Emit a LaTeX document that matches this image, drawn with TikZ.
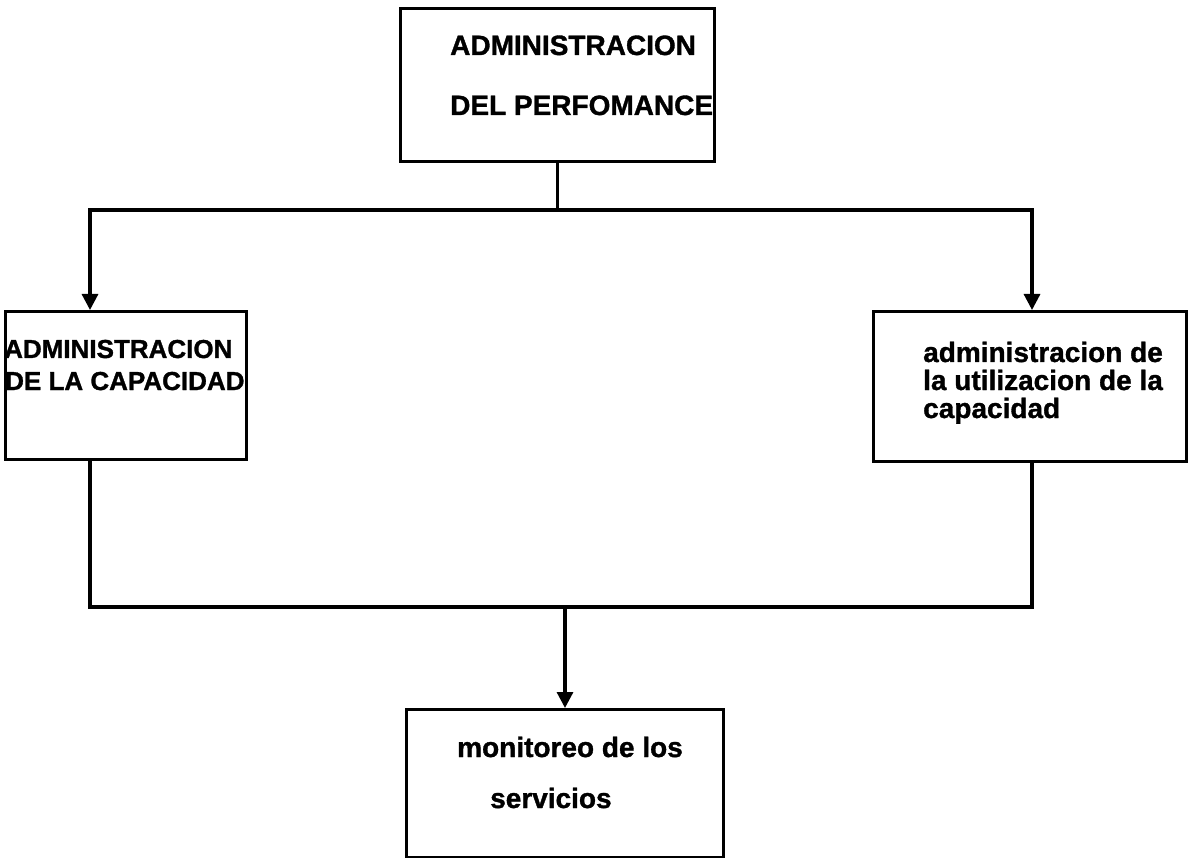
\documentclass[tikz,border=0pt]{standalone}
\usepackage{fontspec}
\setmainfont{Liberation Sans}[BoldFeatures={FakeBold=1.2}]
\usetikzlibrary{arrows.meta}
\begin{document}
\begin{tikzpicture}[x=1pt,y=-1pt,
  box/.style={draw, line width=3pt, inner sep=0pt, anchor=north west},
  txt/.style={anchor=base west, inner sep=0pt, font=\bfseries\fontsize{#1}{#1}\selectfont},
  link/.style={line width=3.2pt},
  arrow/.style={line width=3.2pt, -{Triangle[width=16pt,length=16pt]}}]
\useasboundingbox (0,0) rectangle (1188,858);

% boxes
\node[box, minimum width=314pt, minimum height=153pt] (top) at (399,7) {};
\node[box, minimum width=241pt, minimum height=148pt] (left) at (4,310) {};
\node[box, minimum width=313pt, minimum height=150pt] (right) at (872,310) {};
\node[box, minimum width=317pt, minimum height=148pt] (bottom) at (405,708) {};

% labels
\node[txt=28] (t1) at (450,55) {ADMINISTRACION};
\node[txt=28] (t2) at (450,115) {DEL PERFOMANCE};
\node[txt=26] (l1) at (4,358) {ADMINISTRACION};
\node[txt=26] (l2) at (5,390) {DE LA CAPACIDAD};
\node[txt=28] (r1) at (923,362) {administracion de};
\node[txt=28] (r2) at (923,390) {la utilizacion de la};
\node[txt=28] (r3) at (923,418) {capacidad};
\node[txt=28] (b1) at (457,757) {monitoreo de los};
\node[txt=28] (b2) at (490,808) {servicios};

% junction points
\coordinate (lj) at (90,210);
\coordinate (rj) at (1032,210);
\coordinate (lb) at (90,607);
\coordinate (rb) at (1032,607);

% connectors
\draw[link] (top.south) -- (top.south |- lj);
\draw[link, line cap=rect] (lj) -- (rj);
\draw[arrow] (lj) -- (left.north -| lj);
\draw[arrow] (rj) -- (right.north -| rj);
\draw[link] (left.south -| lb) -- (lb);
\draw[link] (right.south -| rb) -- (rb);
\draw[link, line cap=rect] (lb) -- (rb);
\draw[arrow] (bottom.north |- lb) -- (bottom.north);
\end{tikzpicture}
\end{document}
